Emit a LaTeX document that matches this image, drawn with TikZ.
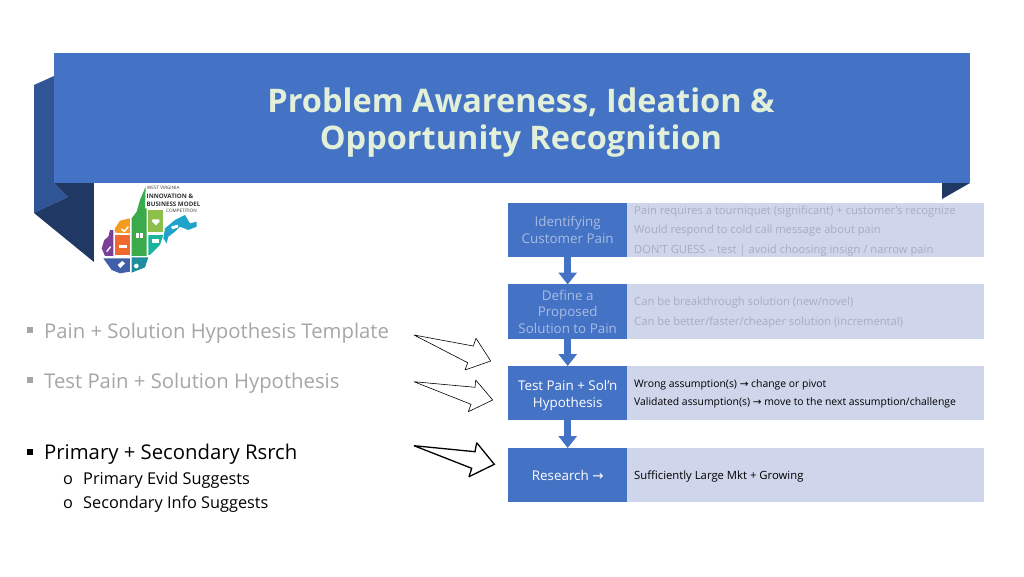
\documentclass[tikz,border=0pt]{standalone}
\usepackage{fontspec}
\setmainfont{Open Sans}
\newfontfamily\arrowfont{DejaVu Sans}
\usetikzlibrary{arrows.meta}
\definecolor{mainblue}{HTML}{4472C4}
\definecolor{ribbon}{HTML}{2F5597}
\definecolor{ribbondark}{HTML}{203864}
\definecolor{lightrow}{HTML}{CFD5EA}
\definecolor{titletxt}{HTML}{E2F0D9}
\definecolor{fadetxt}{HTML}{A6A6A6}
\definecolor{fadebox}{HTML}{A9BCE2}
\definecolor{faderow}{HTML}{A8ADC1}
\definecolor{lggreen}{HTML}{3AAA4A}
\definecolor{lglime}{HTML}{8CC04A}
\definecolor{lgamber}{HTML}{F39C1F}
\definecolor{lgorange}{HTML}{F0692E}
\definecolor{lgpurple}{HTML}{7B3F98}
\definecolor{lgblue}{HTML}{3F5FA8}
\definecolor{lgteal}{HTML}{1D8EA0}
\definecolor{lgsea}{HTML}{17B59B}
\definecolor{lgcyan}{HTML}{1FA3C8}
\newcommand{\ra}{{\arrowfont →}}
\tikzset{
 stepbox/.style={fill=mainblue,minimum width=119pt,minimum height=54.5pt,inner sep=0pt,align=center,text=white,font=\fontsize{13.4}{16.5}\selectfont,anchor=north west},
 rowbox/.style={fill=lightrow,minimum width=357pt,minimum height=54.5pt,inner sep=0pt,anchor=north west},
 rowtxt/.style={anchor=base west,inner sep=0pt,text=black,font=\fontsize{10.4}{13}\selectfont},
 fadetext/.style={rowtxt,text=faderow,font=\fontsize{11.2}{13}\selectfont},
 flow/.style={draw=mainblue,line width=7pt,-{Triangle[length=12pt,width=18pt]},shorten >=-0.5pt},
 hollow/.style={draw=black,fill=white,line width=.6pt,line join=miter,miter limit=2},
 bul/.style={anchor=base west,inner sep=0pt,font=\fontsize{20.3}{24}\selectfont},
 subbul/.style={anchor=base west,inner sep=0pt,font=\fontsize{16.3}{20}\selectfont},
 logotxt/.style={anchor=base west,inner sep=0pt,text=black!80}
}
\begin{document}
\begin{tikzpicture}[x=1pt,y=-1pt]
\useasboundingbox (0,0) rectangle (1024,576);
\fill[white] (0,0) rectangle (1024,576);
% ribbon
\fill[ribbon] (34,85) -- (54,76) -- (54,183) -- (68,197) -- (34,213) -- cycle;
\fill[ribbondark] (54,183) -- (94,183) -- (94,262) -- (34,213) -- (68,197) -- cycle;
\fill[ribbondark] (942,183) -- (970,183) -- (942,199) -- cycle;
\fill[mainblue] (54,53) rectangle (970,183);
\node[inner sep=0pt,align=center,text=titletxt,font=\fontsize{32.5}{37}\bfseries\selectfont] (title) at (521,122.5) {Problem Awareness, Ideation \&\\Opportunity Recognition};
% logo
\begin{scope}[shift={(95,180)},x=.3333pt,y=-.3333pt]
\fill[white] (-3,9) rectangle (110,300);
\fill[lggreen] (152,20) -- (150,85) -- (155,85) -- (155,175) -- (155,228) -- (110,228) -- (110,115) -- (125,95) -- (135,60) -- cycle;
\fill[lglime] (160,90) rectangle (205,157);
\fill[lgamber] (60,158) -- (60,145) -- (75,122) -- (105,115) -- (105,160) -- cycle;
\fill[lgorange] (60,165) rectangle (105,225);
\fill[lgpurple] (55,150) -- (55,228) -- (30,228) -- (20,205) -- (28,180) -- (40,170) -- (45,150) -- cycle;
\fill[lgblue] (25,235) -- (105,235) -- (105,275) -- (75,280) -- (50,270) -- cycle;
\fill[lgteal] (110,232) -- (160,232) -- (150,262) -- (110,278) -- cycle;
\fill[lgsea] (160,165) -- (205,165) -- (195,195) -- (180,210) -- (165,225) -- (160,225) -- cycle;
\fill[lgcyan] (210,145) -- (240,120) -- (270,105) -- (285,130) -- (305,125) -- (305,140) -- (280,150) -- (255,140) -- (240,155) -- (220,170) -- (215,190) -- (205,175) -- cycle;
% white icons
\fill[white] (172,118) -- (192,118) -- (194,124) -- (183,136) -- (171,124) -- cycle;
\fill[white] (122,160) rectangle (131,174);
\fill[white] (134,160) rectangle (143,174);
\draw[white,line width=1.4pt] (80,147) -- (88,154) -- (100,140);
\fill[white] (72,195) rectangle (95,204);
\draw[white,line width=1.4pt] (35,215) -- (47,200);
\fill[white] (68,255) -- (82,243) -- (90,250) -- (76,264) -- cycle;
\fill[white] (124,258) circle[radius=7];
\fill[white] (170,178) rectangle (192,190);
\fill[white] (228,140) -- (248,134) -- (250,142) -- (232,148) -- cycle;
\end{scope}
\node[logotxt,font=\fontsize{4.6}{6}\selectfont] (lg1) at (147,189) {WEST VIRGINIA};
\node[logotxt,font=\fontsize{6.2}{8}\bfseries\selectfont] (lg2) at (146.5,198) {INNOVATION \&};
\node[logotxt,font=\fontsize{6.2}{8}\bfseries\selectfont] (lg3) at (146.5,206) {BUSINESS MODEL};
\node[logotxt,font=\fontsize{4.6}{6}\selectfont] (lg4) at (166,212.5) {COMPETITION};
% rows
\node[rowbox] (r1) at (627,202.5) {};
\node[rowbox] (r2) at (627,284) {};
\node[rowbox] (r3) at (627,365.5) {};
\node[rowbox] (r4) at (627,447.5) {};
\node[stepbox,text=fadebox] (s1) at (508,202.5) {Identifying\\Customer Pain};
\node[stepbox,text=fadebox] (s2) at (508,284) {Define a\\Proposed\\Solution to Pain};
\node[stepbox] (s3) at (508,365.5) {\rule{0pt}{15pt}Test Pain + Sol’n\\Hypothesis};
\node[stepbox] (s4) at (508,447.5) {\rule{0pt}{11pt}Research \ra};
\draw[flow] (s1) ++(0,27.25) -- (s2.north);
\draw[flow] (s2) ++(0,27.25) -- (s3.north);
\draw[flow] (s3) ++(0,27.25) -- (s4.north);
% row texts
\node[fadetext] (t1) at (634,214) {Pain requires a tourniquet (significant) + customer’s recognize};
\node[fadetext] (t2) at (634,233.5) {Would respond to cold call message about pain};
\node[fadetext] (t3) at (634,253) {DON’T GUESS – test | avoid choosing insign / narrow pain};
\node[fadetext] (t4) at (634,305.5) {Can be breakthrough solution (new/novel)};
\node[fadetext] (t5) at (634,325) {Can be better/faster/cheaper solution (incremental)};
\node[rowtxt] (t6) at (634,387.5) {Wrong assumption(s) \ra{} change or pivot};
\node[rowtxt] (t7) at (634,405.5) {Validated assumption(s) \ra{} move to the next assumption/challenge};
\node[rowtxt,font=\fontsize{11.3}{13}\selectfont] (t8) at (634,479) {Sufficiently Large Mkt + Growing};
% left list
\fill[fadetxt] (27,327) rectangle (33,333);
\fill[fadetxt] (27,377) rectangle (33,383);
\fill[black] (27,449) rectangle (33,455);
\node[bul,text=fadetxt] (b1) at (44,338) {Pain + Solution Hypothesis Template};
\node[bul,text=fadetxt] (b2) at (44,388) {Test Pain + Solution Hypothesis};
\node[bul] (b3) at (44,459) {Primary + Secondary Rsrch};
\node[subbul] (o1) at (63,484) {o};
\node[subbul] (o2) at (63,508) {o};
\node[subbul] (b4) at (83,484) {Primary Evid Suggests};
\node[subbul] (b5) at (83,508) {Secondary Info Suggests};
% hollow arrows
\draw[hollow] (414,335) -- (473.3,346) -- (476,338.3) -- (490.7,361) -- (465,370) -- (467.7,362.7) -- cycle;
\draw[hollow] (414,381.7) -- (475,387.3) -- (475.7,380) -- (492.7,400) -- (468.3,411.7) -- (471,404.3) -- cycle;
\draw[hollow,line width=1.3pt] (414,445.7) -- (475,451.7) -- (476.7,442.7) -- (494.3,464.3) -- (469,476.7) -- (471.7,468.3) -- cycle;
\end{tikzpicture}
\end{document}
